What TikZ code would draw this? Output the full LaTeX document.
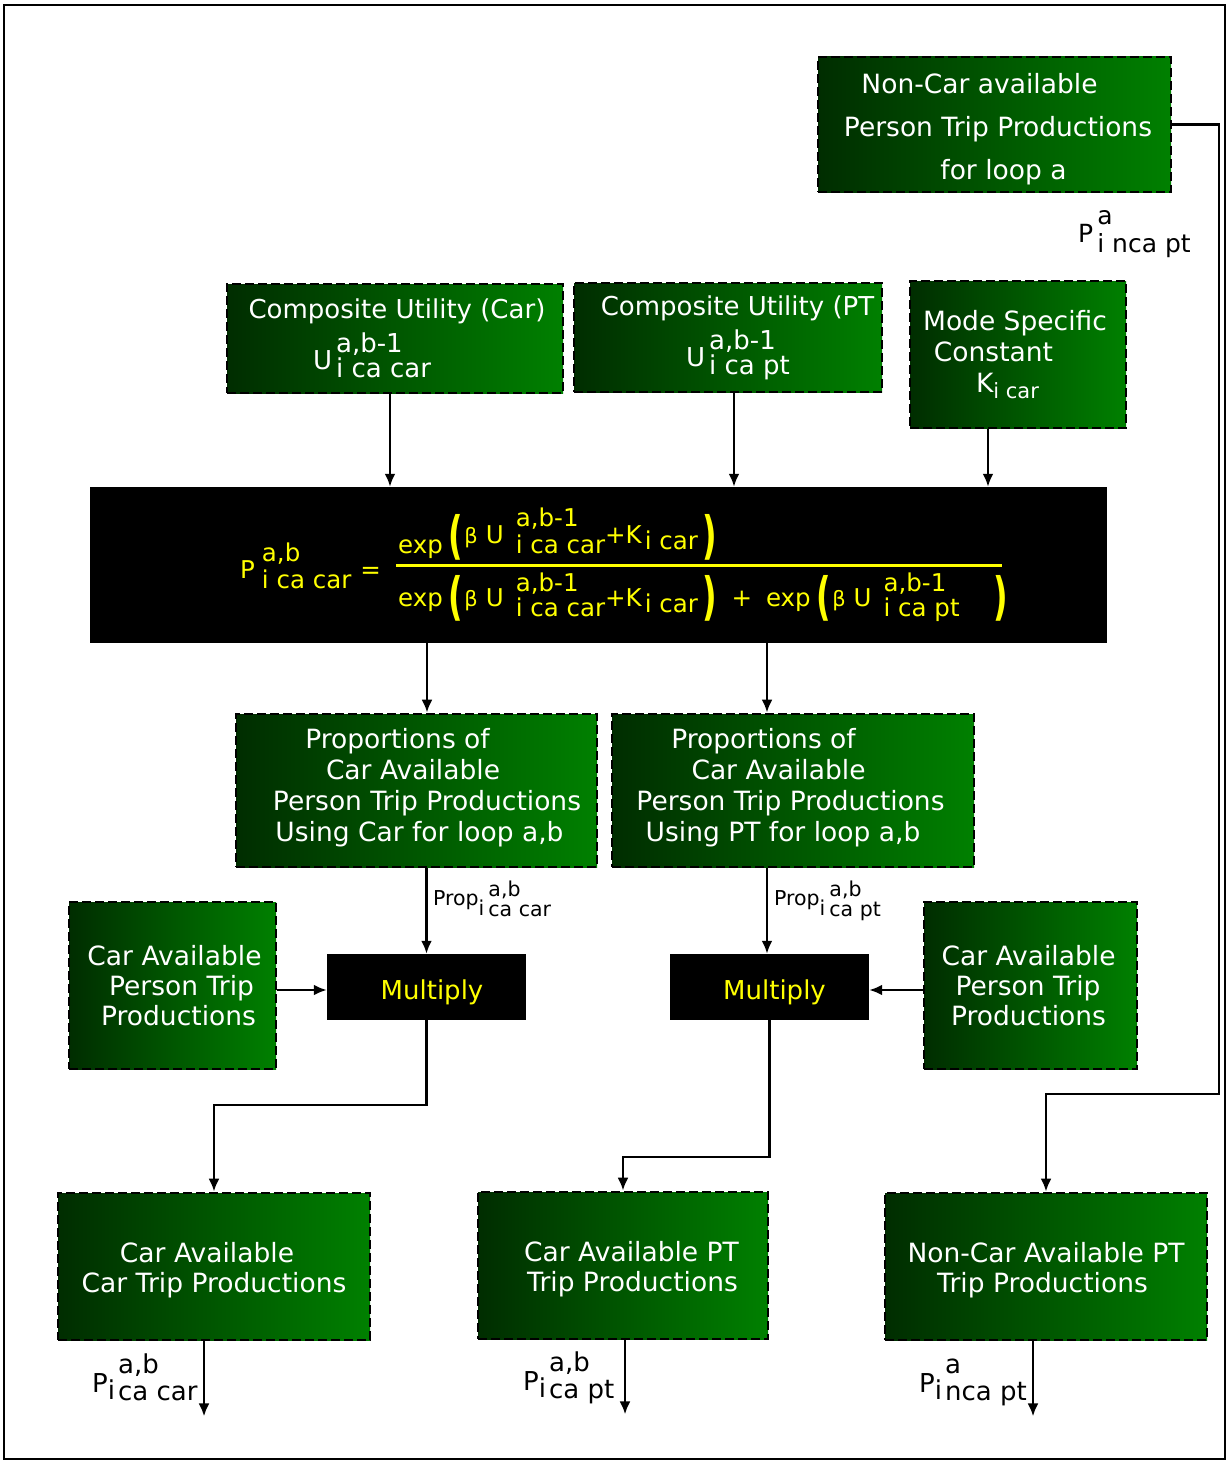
\documentclass[tikz,border=0pt]{standalone}
\usepackage{fontspec}
\usepackage{graphicx}
\setmainfont{DejaVu Sans}
\usetikzlibrary{arrows.meta,calc}

\definecolor{gdark}{RGB}{0,45,0}
\definecolor{glight}{RGB}{0,128,0}
\definecolor{fyel}{RGB}{255,255,0}

% font size / baseline skip in pt
\newcommand{\setfs}[2]{\fontsize{#1pt}{#2pt}\selectfont}
% one centred line, moved sideways by #1
\newcommand{\lineat}[2]{\makebox[0pt][c]{\hspace*{#1}\hspace*{#1}#2}}
% stacked superscript/subscript: [kern]{raise sup}{lower sub}{sup}{sub}
\newcommand{\stk}[5][4pt]{\kern#1\rlap{\raisebox{#2}{#4}}\raisebox{-#3}{#5}}
% tall brackets of the formula
\newcommand{\lpar}[1][0pt]{\raisebox{#1}{\scalebox{1.3}[2.1]{\bfseries (}}}
\newcommand{\rpar}[1][0pt]{\raisebox{#1}{\scalebox{1.3}[2.1]{\bfseries )}}}

\begin{document}
\begin{tikzpicture}[x=1pt,y=-1pt,
  gbox/.style={rectangle, draw=black, line width=2.8pt, dash pattern=on 9pt off 4pt,
    left color=gdark, right color=glight, text=white, align=center, inner sep=0pt},
  bbox/.style={rectangle, fill=black, inner sep=0pt, text=fyel},
  ftxt/.style={anchor=base west, inner sep=0pt, text=fyel, font=\setfs{24.5}{24.5}},
  lbl/.style={anchor=base west, inner sep=0pt, text=black},
  arr/.style={line width=2.5pt, -{Latex[length=13pt,width=11pt]}}]

\useasboundingbox (0,0) rectangle (1228,1461);
\draw[line width=2.5pt] (4,5) rectangle (1225,1459);

% ---- input boxes
\node[gbox, minimum width=353pt, minimum height=135pt, font=\setfs{26.5}{43}] (nca) at (994.5,124.5)
  {\lineat{-15pt}{\rule{0pt}{30pt}Non-Car available}\\\lineat{3.5pt}{Person Trip Productions}\\\lineat{9pt}{for loop a}};
\node[lbl, font=\setfs{25}{25}] (ncaLbl) at (1078,242) {P\stk[4pt]{18pt}{10pt}{a}{i nca pt}};

\node[gbox, minimum width=336pt, minimum height=109pt, font=\setfs{26}{51}] (cucar) at (395,338.5)
  {\lineat{2pt}{Composite Utility (Car)}\\\lineat{-23pt}{U\stk{17pt}{8pt}{a,b-1}{i ca car}}};
\node[gbox, minimum width=308pt, minimum height=109pt, font=\setfs{26}{51}] (cupt) at (728,337.5)
  {\lineat{9.5pt}{Composite Utility (PT}\\\lineat{10pt}{U\stk{17pt}{8pt}{a,b-1}{i ca pt}}};
\node[gbox, minimum width=216pt, minimum height=147pt, font=\setfs{26.5}{31}] (mode) at (1018,354.5)
  {\lineat{-3pt}{Mode Specific}\\\lineat{-24.5pt}{Constant}\\\lineat{-10.5pt}{K\raisebox{-6pt}{\setfs{21}{21}i car}}};

% ---- logit formula
\node[bbox, minimum width=1017pt, minimum height=156pt] (formula) at (598.5,565) {};
\node[ftxt] (fP) at (240,578) {P\stk[7pt]{17pt}{10pt}{a,b}{i ca car}\hspace{9pt}=};
\node[ftxt] (fNum) at (398,553) {exp\kern6pt\lpar\kern1pt\raisebox{10pt}{\setfs{21}{21}β}\kern8pt\raisebox{10pt}{U}\stk[12pt]{27pt}{0pt}{a,b-1}{i ca car}\raisebox{10pt}{+K}\kern3pt\raisebox{4pt}{i car}\kern5pt\rpar};
\node[ftxt] (fDen) at (398,606) {exp\kern6pt\lpar[-8pt]\kern1pt{\setfs{21}{21}β}\kern8pt U\stk[12pt]{15pt}{10pt}{a,b-1}{i ca car}+K\kern3pt\raisebox{-6pt}{i car}\kern5pt\rpar[-8pt]\kern14pt +\kern14pt exp\kern6pt\lpar[-8pt]\kern1pt{\setfs{21}{21}β}\kern8pt U\stk[12pt]{15pt}{10pt}{a,b-1}{i ca pt}\kern34pt\rpar[-8pt]};
\draw[fyel, line width=3pt] (396,565) -- (1002,565);

% ---- proportions
\node[gbox, minimum width=361pt, minimum height=153pt, font=\setfs{26.5}{31}] (propcar) at (416.5,790.5)
  {\lineat{-19pt}{Proportions of}\\\lineat{-3.5pt}{Car Available}\\\lineat{10.5pt}{Person Trip Productions}\\\lineat{3pt}{Using Car for loop a,b\rule[-11pt]{0pt}{0pt}}};
\node[gbox, minimum width=362pt, minimum height=153pt, font=\setfs{26.5}{31}] (proppt) at (793,790.5)
  {\lineat{-29.5pt}{Proportions of}\\\lineat{-14.5pt}{Car Available}\\\lineat{-2.5pt}{Person Trip Productions}\\\lineat{-10pt}{Using PT for loop a,b\rule[-11pt]{0pt}{0pt}}};

% ---- multiplication
\node[gbox, minimum width=207pt, minimum height=167pt, font=\setfs{26.5}{30}] (capL) at (172.5,985.5)
  {\lineat{2pt}{Car Available}\\\lineat{9pt}{Person Trip}\\\lineat{6pt}{Productions}};
\node[gbox, minimum width=213pt, minimum height=167pt, font=\setfs{26.5}{30}] (capR) at (1030.5,985.5)
  {\lineat{-2pt}{Car Available}\\\lineat{-2.5pt}{Person Trip}\\\lineat{-2pt}{Productions}};
\node[bbox, minimum width=199pt, minimum height=66pt, font=\setfs{26}{26}] (multL) at (426.5,987) {\lineat{5.5pt}{\rule{0pt}{30pt}Multiply}};
\node[bbox, minimum width=199pt, minimum height=66pt, font=\setfs{26}{26}] (multR) at (769.5,987) {\lineat{5pt}{\rule{0pt}{30pt}Multiply}};
\node[lbl, font=\setfs{20.5}{20.5}] (propLblL) at (433,905) {Prop\raisebox{-10pt}{i}\stk[4pt]{9pt}{11pt}{a,b}{ca car}};
\node[lbl, font=\setfs{20.5}{20.5}] (propLblR) at (774,905) {Prop\raisebox{-10pt}{i}\stk[4pt]{9pt}{11pt}{a,b}{ca pt}};

% ---- outputs
\node[gbox, minimum width=312pt, minimum height=147pt, font=\setfs{26.5}{30}] (botL) at (214,1266.5)
  {\lineat{-7pt}{\rule{0pt}{28pt}Car Available}\\\lineat{0pt}{Car Trip Productions}};
\node[gbox, minimum width=290pt, minimum height=147pt, font=\setfs{26.5}{30}] (botM) at (623,1265.5)
  {\lineat{8.5pt}{\rule{0pt}{28pt}Car Available PT}\\\lineat{9.5pt}{Trip Productions}};
\node[gbox, minimum width=322pt, minimum height=147pt, font=\setfs{26.5}{30}] (botR) at (1046,1266.5)
  {\lineat{0pt}{\rule{0pt}{28pt}Non-Car Available PT}\\\lineat{-3.5pt}{Trip Productions}};
\node[lbl, font=\setfs{26}{26}] (outLblL) at (92,1392) {P\raisebox{-7pt}{i}\stk[3pt]{19pt}{8pt}{a,b}{ca car}};
\node[lbl, font=\setfs{26}{26}] (outLblM) at (523,1390) {P\raisebox{-7pt}{i}\stk[3pt]{19pt}{8pt}{a,b}{ca pt}};
\node[lbl, font=\setfs{26}{26}] (outLblR) at (919,1392) {P\raisebox{-7pt}{i}\stk[3pt]{19pt}{8pt}{a}{nca pt}};

% ---- connectors
\draw[arr] ([xshift=-5pt]cucar.south) -- ([xshift=-5pt]cucar.south |- formula.north);
\draw[arr] ([xshift=6pt]cupt.south) -- ([xshift=6pt]cupt.south |- formula.north);
\draw[arr] ([xshift=-30pt]mode.south) -- ([xshift=-30pt]mode.south |- formula.north);
\draw[arr] ([xshift=10.5pt]propcar.north |- formula.south) -- ([xshift=10.5pt]propcar.north);
\draw[arr] ([xshift=-26pt]proppt.north |- formula.south) -- ([xshift=-26pt]proppt.north);
\draw[arr] (propcar.south -| multL.north) -- (multL.north);
\draw[arr] ([xshift=-2.5pt]multR.north |- proppt.south) -- ([xshift=-2.5pt]multR.north);
\draw[arr] ([yshift=-3pt]capL.east |- multL.west) -- ([yshift=-3pt]multL.west);
\draw[arr] ([yshift=-3pt]capR.west |- multR.east) -- ([yshift=-3pt]multR.east);
\draw[arr] (multL.south) -- ++(0,85) -| (botL.north);
\draw[arr] (multR.south) -- ++(0,137) -| (botM.north);
\coordinate (ncaTurn) at (1219,1094);
\draw[arr] (nca.east) -| (ncaTurn) -| (botR.north);
\draw[arr] ([xshift=-10pt]botL.south) -- ++(0,75);
\draw[arr] ([xshift=2pt]botM.south) -- ++(0,74);
\draw[arr] ([xshift=-13pt]botR.south) -- ++(0,75);
\end{tikzpicture}
\end{document}
